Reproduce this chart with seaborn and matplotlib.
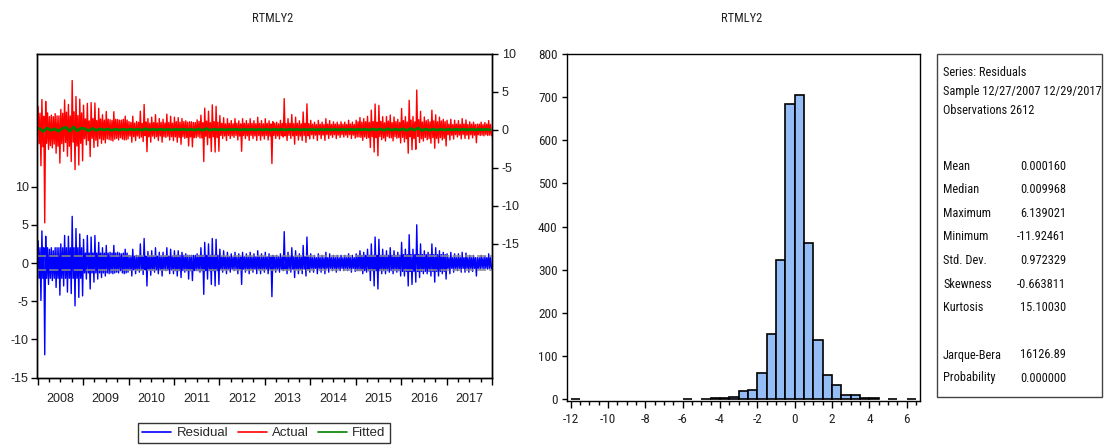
import os
import numpy as np
import pandas as pd
import matplotlib
matplotlib.use("Agg")
import matplotlib.pyplot as plt
import seaborn as sns
from matplotlib import font_manager as fm
from matplotlib.font_manager import FontProperties
from matplotlib.ticker import FixedLocator, FixedFormatter, NullFormatter
from matplotlib.lines import Line2D
from matplotlib.patches import Rectangle

# ---------------- data ----------------
series_title = "RTMLY2"
years = list(range(2008, 2018))

# monthly upper / lower extremes of the residual series (Jan 2008 .. Dec 2017)
resid_hi = [2.9, 4.2, 3.5, 1.8, 1.6, 2.0, 2.5, 3.6, 3.5, 6.1, 4.5, 3.8,
            3.1, 3.6, 3.4, 3.6, 2.7, 2.0, 2.3, 1.4, 2.3, 1.4, 1.2, 1.8,
            1.0, 1.8, 1.0, 2.5, 3.2, 1.5, 1.6, 2.0, 1.4, 1.4, 2.0, 1.8,
            1.6, 1.6, 1.4, 1.2, 1.0, 1.0, 1.2, 2.0, 2.7, 2.5, 3.2, 3.1,
            1.8, 1.6, 1.4, 1.2, 1.4, 1.2, 1.4, 1.2, 1.4, 1.2, 1.6, 1.2,
            1.4, 1.2, 1.0, 1.0, 1.2, 4.1, 1.4, 2.0, 1.6, 1.2, 2.3, 3.4,
            1.2, 1.0, 1.2, 1.0, 1.4, 1.2, 1.0, 1.0, 1.0, 1.0, 1.2, 1.0,
            1.2, 1.6, 1.4, 1.8, 2.5, 3.4, 3.1, 1.8, 1.6, 2.0, 1.6, 1.4,
            2.7, 1.8, 3.7, 1.8, 5.0, 2.5, 1.6, 1.4, 2.5, 2.0, 1.6, 1.4,
            1.2, 1.4, 1.2, 1.2, 1.4, 1.3, 1.0, 1.0, 0.7, 1.0, 0.9, 1.2]
resid_lo = [-4.9, -12.0, -2.8, -2.3, -3.2, -4.2, -3.0, -3.8, -4.0, -5.6, -4.5, -4.3,
            -2.1, -3.4, -2.5, -2.1, -1.9, -1.7, -1.4, -1.4, -1.2, -1.0, -1.4, -1.2,
            -1.7, -1.4, -1.2, -1.5, -3.0, -1.6, -1.2, -1.4, -1.7, -1.0, -1.4, -1.4,
            -1.7, -1.9, -1.2, -2.1, -2.3, -1.0, -1.2, -4.1, -2.1, -2.8, -3.0, -2.8,
            -1.2, -1.4, -1.2, -1.0, -1.4, -2.8, -1.2, -1.4, -1.2, -1.4, -1.4, -1.2,
            -1.4, -4.4, -1.2, -1.2, -1.0, -1.4, -1.2, -1.9, -1.4, -1.4, -1.7, -1.2,
            -1.2, -1.4, -1.2, -1.4, -1.2, -1.0, -1.2, -1.0, -1.0, -1.0, -1.2, -1.1,
            -1.0, -1.4, -1.2, -2.3, -3.0, -3.4, -1.4, -1.4, -1.2, -1.4, -1.2, -1.7,
            -1.7, -3.0, -2.8, -2.5, -1.9, -1.4, -1.4, -1.7, -2.5, -1.7, -1.4, -2.1,
            -1.4, -1.2, -1.0, -1.2, -1.2, -1.2, -1.1, -1.7, -0.8, -0.8, -0.8, -0.8]
# typical (dense core) half-width of the residual band, per year
resid_core = [2.0, 1.3, 0.9, 1.0, 0.8, 0.8, 0.7, 1.0, 1.1, 0.7]

# monthly fitted values (small, close to zero)
fitted = [0.15, -0.25, 0.2, -0.1, 0.1, -0.2, 0.15, 0.3, -0.2, 0.35, -0.15, 0.2,
          0.1, -0.15, 0.15, -0.1, 0.1, -0.05, 0.08, -0.1, 0.05, -0.06, 0.05, -0.04,
          0.05, -0.04, 0.06, -0.08, 0.1, -0.05, 0.04, -0.03, 0.05, -0.04, 0.03, -0.05,
          0.04, -0.03, 0.05, -0.04, 0.03, -0.06, 0.08, -0.1, 0.12, -0.08, 0.05, -0.04,
          0.03, -0.04, 0.03, -0.02, 0.04, -0.05, 0.03, -0.02, 0.03, -0.03, 0.02, -0.03,
          0.03, -0.05, 0.04, -0.03, 0.02, -0.03, 0.04, -0.02, 0.03, -0.04, 0.02, -0.02,
          0.02, -0.03, 0.02, -0.02, 0.03, -0.02, 0.02, -0.03, 0.02, -0.02, 0.03, -0.02,
          0.03, -0.02, 0.04, -0.05, 0.06, -0.04, 0.08, -0.1, 0.12, -0.08, 0.06, -0.05,
          0.08, -0.1, 0.15, -0.08, 0.2, -0.1, 0.06, -0.08, 0.05, -0.06, 0.04, -0.05,
          0.03, -0.04, 0.03, -0.02, 0.04, -0.03, 0.02, -0.03, 0.02, -0.02, 0.03, -0.02]

# histogram of residuals: bins of width 0.5 starting at -12
bin_start = -12.0
bin_width = 0.5
hist_counts = [1, 0, 0, 0, 0, 0, 0, 0, 0, 0, 0, 0,
               1, 0, 1, 3, 3, 6, 19, 22, 60, 151, 322, 685,
               705, 362, 137, 57, 34, 10, 10, 4, 4, 0, 1, 0, 1]

stat_labels = ["Mean", "Median", "Maximum", "Minimum", "Std. Dev.", "Skewness", "Kurtosis"]
stat_values = ["0.000160", "0.009968", "6.139021", "-11.92461", "0.972329", "-0.663811", "15.10030"]
jb_labels = ["Jarque-Bera", "Probability"]
jb_values = ["16126.89", "0.000000"]
header_lines = ["Series: Residuals", "Sample 12/27/2007 12/29/2017", "Observations 2612"]
resid_std = 0.972329

# ---------------- fonts ----------------
sns.set_theme(style="ticks")
plt.rcParams["font.family"] = ["Liberation Sans", "DejaVu Sans"]
plt.rcParams["axes.unicode_minus"] = False


def find_narrow_path():
    prefs = ["Liberation Sans Narrow", "Arial Narrow", "Roboto Condensed",
             "Open Sans Condensed", "Noto Sans Condensed", "DejaVu Sans Condensed"]
    bad = ("bold", "italic", "oblique", "light", "thin", "medium", "black", "semibold",
           "extrabold", "heavy")
    cands = []
    for f in fm.fontManager.ttflist:
        base = os.path.basename(f.fname).lower()
        if any(b in base for b in bad):
            continue
        if f.style != "normal":
            continue
        cond = ("narrow" in base or "condensed" in base or "narrow" in f.name.lower()
                or "condensed" in f.name.lower()
                or str(f.stretch) in ("condensed", "semi-condensed", "extra-condensed"))
        if cond:
            cands.append(f)
    for p in prefs:
        for f in cands:
            if f.name == p or p.replace(" ", "").lower() in os.path.basename(f.fname).replace("-", "").lower():
                return f.fname
    return cands[0].fname if cands else None


NARROW_PATH = find_narrow_path()


def nf(size):
    if NARROW_PATH:
        return FontProperties(fname=NARROW_PATH, size=size)
    return FontProperties(family=["Liberation Sans", "DejaVu Sans"], size=size * 0.9)


W, H = 1104, 446
fig = plt.figure(figsize=(W / 100, H / 100), dpi=100)


def rect(l, t, r, b):
    return [l / W, 1 - b / H, (r - l) / W, (b - t) / H]


# ---------------- residual / actual / fitted ----------------
ax1 = fig.add_axes(rect(37, 53.5, 492, 377.7))
ax2 = ax1.twinx()

n = len(resid_hi)
idx = np.arange(n)
core = np.repeat(resid_core, 12)
t4 = np.column_stack([2008 + (idx + f) / 12 for f in (0.125, 0.375, 0.625, 0.875)]).ravel()
resid = np.column_stack([resid_hi, -core, core, resid_lo]).ravel()
fit4 = np.repeat(fitted, 4)
df = pd.DataFrame({"t": t4, "Residual": resid, "Actual": resid + fit4})
t_fit = 2008 + (idx + 0.5) / 12
df_fit = pd.DataFrame({"t": t_fit, "Fitted": fitted})

sns.lineplot(data=df, x="t", y="Residual", ax=ax1, color="#0000FF", lw=1.0,
             estimator=None, sort=False, legend=False)
for s in (resid_std, -resid_std):
    ax1.axhline(s, color="#8a8a8a", lw=1.1, ls=(0, (6, 2)), zorder=3)

sns.lineplot(data=df, x="t", y="Actual", ax=ax2, color="#FF0000", lw=1.0,
             estimator=None, sort=False, legend=False)
sns.lineplot(data=df_fit, x="t", y="Fitted", ax=ax2, color="#008000", lw=2.0,
             estimator=None, sort=False, legend=False)

ax1.set_xlim(2007.986, 2018.0)
ax1.set_ylim(-15, 27.4)
ax2.set_ylim(-32.6, 10)
ax1.set_yticks([-15, -10, -5, 0, 5, 10])
ax2.set_yticks([-15, -10, -5, 0, 5, 10])
ax1.set_xlabel("")
ax1.set_ylabel("")
ax2.set_ylabel("")

major_years = years + [years[-1] + 1]
ax1.xaxis.set_major_locator(FixedLocator(major_years))
ax1.xaxis.set_major_formatter(NullFormatter())
minor_pos, minor_lab = [], []
for y in years:
    for q in (1, 2, 3):
        minor_pos.append(y + q / 4)
        minor_lab.append(str(y) if q == 2 else "")
ax1.xaxis.set_minor_locator(FixedLocator(minor_pos))
ax1.xaxis.set_minor_formatter(FixedFormatter(minor_lab))

ax1.tick_params(axis="x", which="major", direction="out", length=5, width=1,
                color="black", bottom=True)
ax1.tick_params(axis="x", which="minor", direction="out", length=3, width=1,
                color="black", bottom=True, labelsize=9, pad=8, labelcolor="#222222")
ax1.tick_params(axis="y", direction="out", length=4, width=1, color="black",
                labelsize=9, pad=2, left=True, right=False, labelcolor="#222222")
ax2.tick_params(axis="y", direction="out", length=4, width=1, color="black",
                labelsize=9, pad=3, right=True, left=False, labelcolor="#222222")
for a in (ax1, ax2):
    for sp in a.spines.values():
        sp.set_visible(True)
        sp.set_color("black")
        sp.set_linewidth(1.0)

# ---------------- histogram ----------------
ax3 = fig.add_axes(rect(566.7, 54, 920, 400.7))
nb = len(hist_counts)
edges = bin_start + bin_width * np.arange(nb + 1)
centers = bin_start + bin_width * (np.arange(nb) + 0.5)
hist_df = pd.DataFrame({"resid": centers, "count": hist_counts})
sns.histplot(data=hist_df, x="resid", weights="count", binwidth=bin_width,
             binrange=(float(edges[0]), float(edges[-1])), ax=ax3,
             color="#94BDF5", edgecolor="black", linewidth=1.2, alpha=1.0)
for p in ax3.patches:
    if p.get_height() == 0:
        p.set_visible(False)
ax3.set_xlim(-12.21, 6.71)
ax3.set_ylim(-3.2, 800)
ax3.set_xlabel("")
ax3.set_ylabel("")
ax3.xaxis.set_major_locator(FixedLocator(list(range(-12, 7, 2))))
ax3.xaxis.set_minor_locator(FixedLocator(list(edges)))
ax3.set_yticks(list(range(0, 801, 100)))
ax3.tick_params(axis="x", which="major", direction="out", length=5, width=1,
                color="black", pad=4, labelcolor="#222222")
ax3.tick_params(axis="x", which="minor", direction="out", length=3, width=1,
                color="black")
ax3.tick_params(axis="y", direction="out", length=3.5, width=1, color="black",
                pad=3, labelcolor="#222222")
for lab in ax3.get_xticklabels() + ax3.get_yticklabels():
    lab.set_fontproperties(nf(9.5))
for sp in ax3.spines.values():
    sp.set_visible(True)
    sp.set_color("black")
    sp.set_linewidth(1.0)

# ---------------- statistics box ----------------
fig.add_artist(Rectangle((936.7 / W, 1 - 396.7 / H), (1101.7 - 936.7) / W,
                         (396.7 - 54) / H, transform=fig.transFigure,
                         fill=False, edgecolor="#444444", lw=1.0))
renderer = fig.canvas.get_renderer()
probe = fig.text(0, 0, header_lines[1], fontproperties=nf(10))
wpx = probe.get_window_extent(renderer).width
probe.remove()
stat_size = min(10.0, 10.0 * 157.0 / wpx)

lx, rx = 943 / W, 1066 / W
for i, txt in enumerate(header_lines):
    fig.text(lx, 1 - (73 + 18.5 * i) / H, txt, ha="left", va="center",
             fontproperties=nf(stat_size), color="#111111")
for i, (lab, val) in enumerate(zip(stat_labels, stat_values)):
    yy = 1 - (166 + 23.6 * i) / H
    fig.text(lx, yy, lab, ha="left", va="center", fontproperties=nf(stat_size), color="#111111")
    fig.text(rx, yy, val, ha="right", va="center", fontproperties=nf(stat_size), color="#111111")
for i, (lab, val) in enumerate(zip(jb_labels, jb_values)):
    yy = 1 - (355 + 23 * i) / H
    fig.text(lx, yy, lab, ha="left", va="center", fontproperties=nf(stat_size), color="#111111")
    fig.text(rx, yy, val, ha="right", va="center", fontproperties=nf(stat_size), color="#111111")

# ---------------- titles ----------------
fig.text(273 / W, 1 - 18 / H, series_title, ha="center", va="center",
         fontproperties=nf(9), color="#222222")
fig.text(742 / W, 1 - 18 / H, series_title, ha="center", va="center",
         fontproperties=nf(9), color="#222222")

# ---------------- legend ----------------
handles = [Line2D([], [], color="#0000FF", lw=1.2),
           Line2D([], [], color="#FF0000", lw=1.2),
           Line2D([], [], color="#008000", lw=1.2)]
leg = fig.legend(handles, ["Residual", "Actual", "Fitted"], loc="upper center",
                 bbox_to_anchor=(264 / W, 1 - 423 / H), ncol=3, frameon=True,
                 fancybox=False, edgecolor="black", fontsize=9.5, handlelength=2.2,
                 columnspacing=0.7, handletextpad=0.4, borderpad=0.3, borderaxespad=0)
leg.get_frame().set_linewidth(1.0)

fig.savefig("out.png", dpi=100)
